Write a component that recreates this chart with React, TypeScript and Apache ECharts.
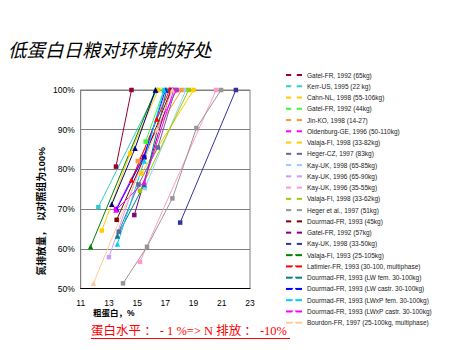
import React, { useEffect, useRef } from "react";
import * as echarts from "echarts";

// ---- data ----
const xTickValues = [11, 13, 15, 17, 19, 21, 23];
const yTickValues = [50, 60, 70, 80, 90, 100];

const seriesNames = [
  "Gatel-FR, 1992 (65kg)",
  "Kerr-US, 1995 (22 kg)",
  "Cahn-NL, 1998 (55-106kg)",
  "Gatel-FR, 1992 (44kg)",
  "Jin-KO, 1998 (14-27)",
  "Oldenburg-GE, 1996 (50-110kg)",
  "Valaja-FI, 1998 (33-82kg)",
  "Heger-CZ, 1997 (83kg)",
  "Kay-UK, 1998 (65-85kg)",
  "Kay-UK, 1996 (65-90kg)",
  "Kay-UK, 1996 (35-55kg)",
  "Valaja-FI, 1998 (33-62kg)",
  "Heger et al., 1997 (51kg)",
  "Dourmad-FR, 1993 (45kg)",
  "Gatel-FR, 1992 (57kg)",
  "Kay-UK, 1998 (33-50kg)",
  "Valaja-FI, 1993 (25-105kg)",
  "Latimier-FR, 1993 (30-100, multiphase)",
  "Dourmad-FR, 1993 (LW fem. 30-100kg)",
  "Dourmad-FR, 1993 (LW castr. 30-100kg)",
  "Dourmad-FR, 1993 (LWxP fem. 30-100kg)",
  "Dourmad-FR, 1993 (LWxP castr. 30-100kg)",
  "Bourdon-FR, 1997 (25-100kg, multiphase)",
  "Dourmad-FR, 1993 (LW)",
];

// [crude protein %, N excretion % of control]
const gatel65 = [[13.5, 80.7], [14.6, 100]];
const kerrUS = [[12.25, 70.5], [16.4, 100]];
const cahnNL = [[12.5, 64.6], [14.5, 84.0], [16.5, 100]];
const gatel44 = [[15.6, 87.0], [16.9, 100]];
const jinKO = [[15.05, 82.1], [18.15, 100]];
const oldenburg = [[13.5, 70.0], [17.8, 100]];
const valaja33_82 = [[15.3, 79.0], [19.0, 100]];
const hegerCZ = [[13.7, 64.3], [15.1, 76.2], [16.46, 85.5], [17.7, 100]];
const kay65_85 = [[15.55, 75.3], [18.45, 100]];
const kay65_90 = [[13.0, 57.9], [17.1, 100]];
const kay35_55 = [[15.2, 56.7], [20.6, 100]];
const valaja33_62 = [[15.2, 74.6], [18.65, 100]];
const hegerEtAl = [[14.0, 51.3], [15.7, 60.5], [17.5, 72.7], [19.2, 90.4], [20.95, 100]];
const dourmad45 = [[13.55, 67.3], [15.5, 83.0], [17.4, 100]];
const gatel57 = [[14.8, 68.5], [17.4, 100]];
const kay33_50 = [[18.05, 66.6], [22.0, 100]];
const valaja1993 = [[11.7, 60.5], [16.3, 100]];
const latimier = [[14.6, 77.3], [16.4, 92.7], [17.3, 100]];
const dourmadLWfem = [[13.6, 63.2], [15.5, 76.2], [17.1, 100]];
const dourmadLWcastr = [[13.55, 70.0], [15.5, 83.4], [17.0, 100]];
const dourmadLWxPfem = [[13.6, 61.2], [15.5, 82.1], [16.9, 100]];
const dourmadLWxPcastr = [[13.5, 69.8], [15.5, 76.8], [17.6, 100]];
const bourdon = [[11.9, 51.3], [16.4, 90.0], [17.5, 100]];
const dourmadLW = [[13.2, 71.2], [14.85, 85.3], [16.3, 100]];

const seriesData = [
  gatel65, kerrUS, cahnNL, gatel44, jinKO, oldenburg, valaja33_82, hegerCZ,
  kay65_85, kay65_90, kay35_55, valaja33_62, hegerEtAl, dourmad45, gatel57,
  kay33_50, valaja1993, latimier, dourmadLWfem, dourmadLWcastr, dourmadLWxPfem,
  dourmadLWxPcastr, bourdon, dourmadLW,
];

// ---- styles ----
const seriesColors = [
  "#990033", "#33CCCC", "#FFCC00", "#33FF33", "#FF9933", "#FF00FF", "#FFCC00",
  "#666699", "#99CCFF", "#CC99FF", "#FF99CC", "#99CC00", "#969696", "#800000",
  "#800080", "#333399", "#008000", "#FF0000", "#008080", "#0000FF", "#00CCFF",
  "#FF00FF", "#FFCC99", "#000080",
];
const seriesSymbols = seriesNames.map((_, i) => (i < 16 ? "rect" : "triangle"));

export default function App() {
  const ref = useRef<HTMLDivElement>(null);
  useEffect(() => {
    if (!ref.current) return;
    const chart = echarts.init(ref.current, undefined, { renderer: "svg" });
    const series = seriesNames.map((name, i) => ({
      name,
      type: "line",
      data: seriesData[i],
      symbol: seriesSymbols[i],
      symbolSize: i < 16 ? 4.5 : 5.5,
      showSymbol: true,
      lineStyle: { color: seriesColors[i], width: 1 },
      itemStyle: { color: seriesColors[i] },
      emphasis: { disabled: true },
    }));
    chart.setOption({
      animation: false,
      backgroundColor: "#ffffff",
      grid: {
        left: 80.7,
        right: 217,
        top: 90,
        bottom: 61.5,
        show: true,
        borderColor: "#808080",
        borderWidth: 1,
      },
      xAxis: {
        type: "value",
        min: xTickValues[0],
        max: xTickValues[xTickValues.length - 1],
        interval: 2,
        axisLine: { show: true, lineStyle: { color: "#000000", width: 1 } },
        axisTick: { show: false },
        splitLine: { show: false },
        axisLabel: {
          margin: 10,
          fontSize: 8.5,
          color: "#000",
          fontFamily: "Liberation Sans, Arial",
        },
      },
      yAxis: {
        type: "value",
        min: yTickValues[0],
        max: yTickValues[yTickValues.length - 1],
        interval: 10,
        axisLine: { show: true, lineStyle: { color: "#808080", width: 1 } },
        axisTick: { show: false },
        splitLine: { show: true, lineStyle: { color: "#808080", width: 1 } },
        axisLabel: {
          margin: 6,
          fontSize: 8.5,
          color: "#000",
          fontFamily: "Liberation Sans, Arial",
          formatter: "{value}%",
        },
      },
      legend: {
        data: seriesNames.slice(0, 23),
        orient: "vertical",
        left: 285,
        top: 71.5,
        itemWidth: 16,
        itemHeight: 7,
        itemGap: 4.26,
        selectedMode: false,
        padding: 0,
        textStyle: {
          fontSize: 6.5,
          lineHeight: 7,
          color: "#222",
          fontFamily: "Liberation Sans, Arial",
        },
        itemStyle: { color: "#ffffff", borderWidth: 1, borderColor: "inherit" },
      },
      graphic: [
        {
          type: "text",
          x: 8,
          y: 49,
          style: {
            text: "低蛋白日粮对环境的好处",
            fontSize: 18.5,
            fontStyle: "italic",
            fontFamily: "Noto Sans CJK SC",
            fill: "#000",
            align: "left",
            verticalAlign: "middle",
          },
        },
        {
          type: "text",
          left: 37,
          top: 147,
          rotation: Math.PI / 2,
          style: {
            text: "氮排放量，  以对照组为100%",
            fontSize: 9.8,
            fontWeight: "bold",
            fontFamily: "Liberation Sans, Noto Sans CJK SC",
            fill: "#000",
          },
        },
        {
          type: "text",
          x: 93,
          y: 312.5,
          style: {
            text: "粗蛋白，%",
            fontSize: 8.5,
            fontWeight: "bold",
            fontFamily: "Liberation Sans, Noto Sans CJK SC",
            fill: "#000",
            align: "left",
            verticalAlign: "middle",
          },
        },
        {
          type: "text",
          x: 91,
          y: 330.5,
          style: {
            text: "蛋白水平 ： - 1 %=> N 排放 ： -10%",
            fontSize: 12.5,
            fontFamily: "Liberation Serif, Noto Sans CJK SC",
            fill: "#FF0000",
            align: "left",
            verticalAlign: "middle",
          },
        },
        {
          type: "line",
          shape: { x1: 91, y1: 338.5, x2: 290, y2: 338.5 },
          style: { stroke: "#FF0000", lineWidth: 1 },
        },
      ],
      series,
    });
    return () => chart.dispose();
  }, []);
  return (
    <div
      ref={ref}
      style={{ position: "absolute", left: 0, top: 0, width: 467, height: 350, background: "#fff" }}
    />
  );
}
